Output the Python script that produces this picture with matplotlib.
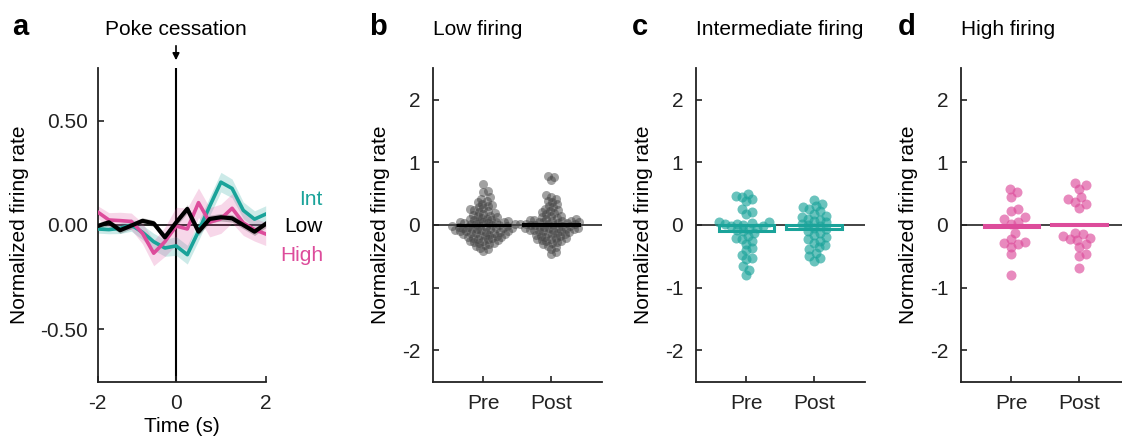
import numpy as np
import matplotlib
matplotlib.use("Agg")
import matplotlib.pyplot as plt
from matplotlib.transforms import blended_transform_factory

plt.rcParams['font.family'] = ['Liberation Sans', 'DejaVu Sans']
plt.rcParams['font.size'] = 15
plt.rcParams['axes.unicode_minus'] = False

TEAL = '#1AA39A'
PINK = '#DD4C9B'
GREY = '#444444'

# ---- panel a: mean traces around poke cessation ----
time_s = np.arange(-1.75, 2.01, 0.25)
low_mean = [-0.005, 0.013, -0.025, -0.003, 0.02, 0.008, -0.059, 0.012,
            0.077, -0.032, 0.029, 0.037, 0.032, 0.0, -0.032, 0.005]
low_sem = [0.015, 0.015, 0.015, 0.015, 0.015, 0.015, 0.018, 0.018,
           0.02, 0.018, 0.018, 0.018, 0.018, 0.018, 0.018, 0.018]
int_mean = [-0.019, -0.022, -0.016, 0.0, -0.035, -0.08, -0.11, -0.1,
            -0.142, -0.03, 0.09, 0.205, 0.175, 0.07, 0.028, 0.052]
int_sem = [0.02, 0.02, 0.025, 0.03, 0.035, 0.04, 0.04, 0.045,
           0.045, 0.045, 0.045, 0.047, 0.045, 0.04, 0.04, 0.04]
high_mean = [0.062, 0.024, 0.021, 0.017, -0.04, -0.135, -0.08, -0.005,
             -0.019, 0.107, 0.013, 0.03, 0.08, 0.01, -0.022, -0.043]
high_sem = [0.03, 0.035, 0.04, 0.04, 0.05, 0.06, 0.07, 0.09,
            0.1, 0.07, 0.07, 0.07, 0.07, 0.06, 0.055, 0.055]

# ---- panels b-d: per-neuron values, pre vs post ----
low_pre = [0.66, 0.55, 0.52, 0.44, 0.41, 0.38, 0.36, 0.34, 0.32, 0.31,
           0.29, 0.27, 0.25, 0.24, 0.22, 0.21, 0.19, 0.18, 0.16, 0.15,
           0.14, 0.12, 0.11, 0.10, 0.09, 0.08, 0.08, 0.07, 0.06, 0.05,
           0.05, 0.04, 0.04, 0.03, 0.03, 0.02, 0.02, 0.01, 0.01, 0.0,
           -0.005, -0.01, -0.015, -0.02, -0.025, -0.03, -0.035, -0.04,
           -0.045, -0.05, -0.055, -0.06, -0.065, -0.07, -0.075, -0.08,
           -0.09, -0.095, -0.10, -0.11, -0.115, -0.12, -0.13, -0.135,
           -0.14, -0.15, -0.155, -0.16, -0.17, -0.18, -0.19, -0.195,
           -0.20, -0.21, -0.22, -0.23, -0.24, -0.25, -0.26, -0.27, -0.28,
           -0.29, -0.30, -0.32, -0.34, -0.36, -0.38, -0.42]
low_post = [0.78, 0.77, 0.72, 0.48, 0.45, 0.42, 0.38, 0.36, 0.34, 0.31,
            0.28, 0.26, 0.24, 0.22, 0.20, 0.19, 0.17, 0.15, 0.14, 0.12,
            0.11, 0.10, 0.09, 0.085, 0.08, 0.07, 0.065, 0.06, 0.05, 0.045,
            0.04, 0.035, 0.03, 0.02, 0.015, 0.01, 0.005, 0.0,
            -0.005, -0.01, -0.02, -0.025, -0.03, -0.04, -0.045, -0.05,
            -0.055, -0.06, -0.07, -0.075, -0.08, -0.085, -0.09, -0.095,
            -0.10, -0.11, -0.12, -0.13, -0.14, -0.15, -0.16, -0.17,
            -0.18, -0.19, -0.20, -0.21, -0.22, -0.23, -0.24, -0.25,
            -0.26, -0.27, -0.29, -0.31, -0.33, -0.35, -0.38, -0.43, -0.46]
int_pre = [0.49, 0.47, 0.45, 0.41, 0.38, 0.25, 0.20, 0.17, 0.05, 0.04,
           0.03, 0.02, 0.01, 0.0, -0.01, -0.02, -0.04, -0.06, -0.08, -0.10,
           -0.13, -0.18, -0.21, -0.22, -0.25, -0.30, -0.36, -0.40, -0.48,
           -0.53, -0.55, -0.66, -0.71, -0.80]
int_post = [0.40, 0.33, 0.30, 0.28, 0.25, 0.22, 0.18, 0.14, 0.12, 0.10,
            0.08, 0.06, 0.04, 0.02, 0.0, -0.02, -0.04, -0.07, -0.10, -0.13,
            -0.16, -0.19, -0.22, -0.25, -0.28, -0.32, -0.35, -0.38, -0.44,
            -0.50, -0.53, -0.57]
high_pre = [0.57, 0.53, 0.44, 0.26, 0.23, 0.12, 0.09, 0.05, 0.02, -0.13,
            -0.23, -0.27, -0.29, -0.30, -0.35, -0.47, -0.79]
high_post = [0.67, 0.64, 0.57, 0.45, 0.41, 0.37, 0.34, 0.27, -0.13, -0.15,
             -0.18, -0.20, -0.22, -0.24, -0.30, -0.35, -0.47, -0.49, -0.68]

conditions = ['Pre', 'Post']

W, H = 1122, 443
fig = plt.figure(figsize=(W / 100, H / 100), dpi=100)


def px_axes(left, right, top=68.3, bottom=381.7):
    return fig.add_axes([left / W, 1 - bottom / H, (right - left) / W, (bottom - top) / H])


def style(ax):
    for s in ['top', 'right']:
        ax.spines[s].set_visible(False)
    for s in ['left', 'bottom']:
        ax.spines[s].set_linewidth(1.3)
        ax.spines[s].set_color('#222222')
    ax.tick_params(direction='in', length=4, width=1.2, colors='#222222', labelsize=15)


def swarm_offsets(vals, d_px, xs, ys, step_frac=0.25):
    # simple beeswarm in pixel space, returns x offsets in data units
    vals = np.asarray(vals, dtype=float)
    order = np.argsort(vals)
    placed = []
    offs = np.zeros(len(vals))
    cands = [0.0]
    for j in range(1, 80):
        cands += [j * step_frac * d_px, -j * step_frac * d_px]
    for i in order:
        y = vals[i] * ys
        for c in cands:
            if all((c - px) ** 2 + (y - py) ** 2 >= d_px ** 2 for px, py in placed):
                break
        placed.append((c, y))
        offs[i] = c / xs
    return offs


# ================= panel a =================
ax = px_axes(97.7, 265.7)
style(ax)
ax.axhline(0, color='k', lw=1.2, zorder=1)
ax.axvline(0, color='k', lw=1.5, zorder=1)
for m, e, c, lw in [(int_mean, int_sem, TEAL, 2.6), (high_mean, high_sem, PINK, 2.6),
                    (low_mean, low_sem, 'k', 3.0)]:
    m = np.array(m)
    e = np.array(e)
    ax.fill_between(time_s, m - e, m + e, color=c, alpha=0.22, lw=0, zorder=2)
    ax.plot(time_s, m, color=c, lw=lw, zorder=3)
ax.set_xlim(-1.75, 2.0)
ax.set_ylim(-0.75, 0.75)
ax.set_xticks([-1.75, 0, 2])
ax.set_xticklabels(['-2', '0', '2'])
ax.set_yticks([-0.5, 0, 0.5])
ax.set_yticklabels(['-0.50', '0.00', '0.50'])
ax.tick_params(axis='x', pad=9)
ax.tick_params(axis='y', pad=7)
ax.set_xlabel('Time (s)', labelpad=3)
ax.text(-0.4625, 0.5, 'Normalized firing rate', rotation=90, ha='center', va='center',
        transform=ax.transAxes, fontsize=15)
tr = blended_transform_factory(ax.transAxes, ax.transData)
ax.text(1.341, 0.124, 'Int', color=TEAL, ha='right', va='center', transform=tr)
ax.text(1.341, -0.005, 'Low', color='k', ha='right', va='center', transform=tr)
ax.text(1.341, -0.148, 'High', color=PINK, ha='right', va='center', transform=tr)
fig.text(176 / W, 1 - 35 / H, 'Poke cessation', ha='center', va='baseline', fontsize=15)
fig.add_artist(matplotlib.patches.FancyArrowPatch(
    (176 / W, 1 - 43 / H), (176 / W, 1 - 63 / H), transform=fig.transFigure,
    arrowstyle='-|>', mutation_scale=10, color='k', lw=1.2))
fig.text(12 / W, 1 - 35 / H, 'a', fontsize=21, fontweight='bold', va='baseline')

# ================= panels b-d =================
panels = [
    (432.7, 'b', 'Low firing', low_pre, low_post, GREY, 0.5, 'k', 'k', 9, 0.5),
    (695.7, 'c', 'Intermediate firing', int_pre, int_post, TEAL, 0.65, 'none', TEAL, 10, 0.6),
    (960.7, 'd', 'High firing', high_pre, high_post, PINK, 0.65, PINK, PINK, 10, 0.7),
]
xs = 67.4   # px per x unit
ys = 62.5   # px per y unit
for left, letter, title, pre, post, col, alpha, face, edge, dpx, sep in panels:
    ax = px_axes(left, left + 169)
    style(ax)
    ax.set_xlim(-0.75, 1.75)
    ax.set_ylim(-2.5, 2.5)
    ax.axhline(0, color='#222222', lw=1.2, zorder=1)
    means = [np.mean(pre), np.mean(post)]
    bar_z = 4 if letter != 'c' else 2
    ax.bar([0, 1], means, width=0.82, color=face, edgecolor=edge, lw=2.2, zorder=bar_z)
    for i, vals in enumerate([pre, post]):
        offs = swarm_offsets(vals, dpx * sep, xs, ys)
        ax.scatter(i + offs, vals, s=(dpx * 0.72) ** 2, color=col, alpha=alpha,
                   lw=0, zorder=3)
    ax.set_xticks([0, 1])
    ax.set_xticklabels(conditions)
    ax.set_yticks([-2, -1, 0, 1, 2])
    ax.tick_params(axis='x', pad=9)
    ax.tick_params(axis='y', pad=9)
    ax.text(-0.31, 0.5, 'Normalized firing rate', rotation=90, ha='center', va='center',
            transform=ax.transAxes, fontsize=15)
    fig.text(left / W, 1 - 35 / H, title, ha='left', va='baseline', fontsize=15)
    fig.text((left - 63.4) / W, 1 - 35 / H, letter, fontsize=21, fontweight='bold',
             va='baseline')

fig.savefig('out.png', dpi=100)
